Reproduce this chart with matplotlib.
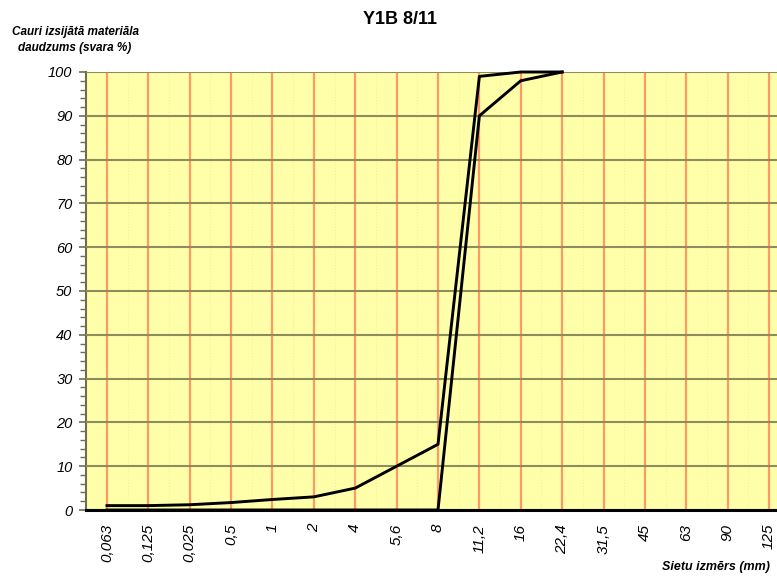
import matplotlib.pyplot as plt
from matplotlib.ticker import MultipleLocator

plt.rcParams['font.family'] = ['Liberation Sans', 'DejaVu Sans']

# sieve sizes (mm) and passing percentages of the two envelope curves
sieves = ['0,063', '0,125', '0,025', '0,5', '1', '2', '4', '5,6', '8',
          '11,2', '16', '22,4', '31,5', '45', '63', '90', '125']
upper = [1, 1, 1.2, 1.7, 2.4, 3, 5, 10, 15, 99, 100, 100]
lower = [0, 0, 0, 0, 0, 0, 0, 0, 0, 90, 98, 100]

fig = plt.figure(figsize=(7.77, 5.77), dpi=100)
ax = fig.add_axes([86.3 / 777, 67 / 577, 703.4 / 777, 438 / 577])
ax.set_facecolor('#ffffaa')

x = list(range(len(sieves)))

# red verticals on each sieve, faint dotted ones in between
for i in x:
    ax.axvline(i, color='#ff9966', lw=1.6, zorder=1)
    ax.axvline(i + 0.5, color='#f0f0a0', lw=0.8, ls=':', zorder=1)

ax.plot(x[:len(upper)], upper, color='black', lw=2.1, zorder=3, clip_on=False)
ax.plot(x[:len(lower)], lower, color='black', lw=2.1, zorder=3, clip_on=False)

ax.set_xlim(-0.5, len(sieves) - 0.5)
ax.set_ylim(0, 100)
ax.yaxis.set_major_locator(MultipleLocator(10))
ax.yaxis.set_minor_locator(MultipleLocator(2))
ax.grid(axis='y', which='major', color='#8c8c5c', lw=1.5, zorder=2)
ax.set_axisbelow(False)

ax.set_xticks(x)
ax.set_xticklabels(sieves, rotation=90, fontstyle='italic', fontsize=11,
                   va='top', ha='center')
ax.tick_params(axis='x', length=0, pad=10)
ax.tick_params(axis='y', which='major', length=5, width=1.2, color='#6e6e50',
               labelsize=10.5, pad=5)
ax.tick_params(axis='y', which='minor', length=4, width=1.0, color='#6e6e50')
for lab in ax.get_yticklabels():
    lab.set_fontstyle('italic')

for side in ['top', 'right']:
    ax.spines[side].set_visible(False)
ax.spines['left'].set_color('#6e6e50')
ax.spines['left'].set_linewidth(1.5)
ax.spines['bottom'].set_color('black')
ax.spines['bottom'].set_linewidth(2.2)
ax.spines['bottom'].set_zorder(4)

fig.text(400 / 777, 1 - 20 / 577, 'Y1B 8/11', ha='center', va='center',
         fontsize=13, fontweight='bold')
fig.text(75 / 777, 1 - 40 / 577, 'Cauri izsijātā materiāla\ndaudzums (svara %)',
         ha='center', va='center', fontsize=8.5, fontweight='bold',
         fontstyle='italic', linespacing=1.5)
fig.text(770 / 777, 1 - 567 / 577, 'Sietu izmērs (mm)', ha='right',
         va='center', fontsize=9, fontweight='bold', fontstyle='italic')

fig.savefig('out.png', dpi=100)
